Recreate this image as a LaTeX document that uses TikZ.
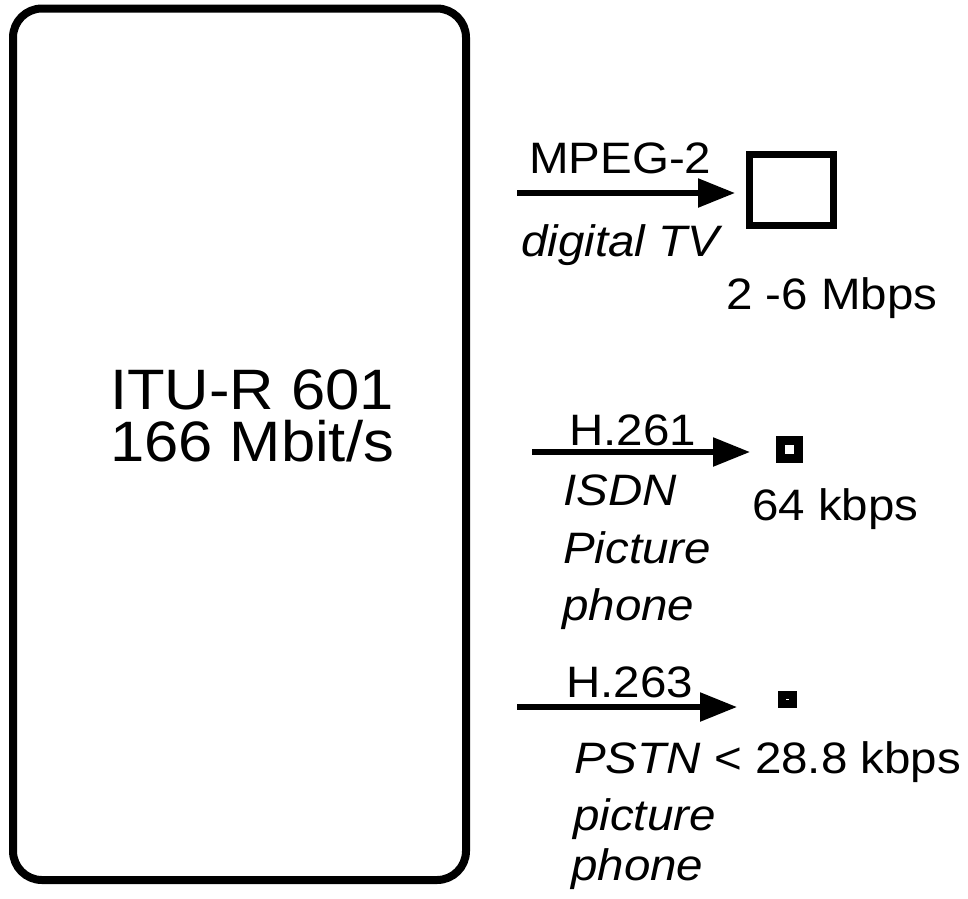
\documentclass[tikz,border=0pt]{standalone}
\usepackage{fontspec}
\setmainfont{Liberation Sans}[FakeStretch=1.08]
\usetikzlibrary{arrows.meta, positioning}
\tikzset{>={Triangle[length=37pt,width=28pt]}}

\begin{document}
\begin{tikzpicture}[x=1pt, y=-1pt,
  txt/.style={font=\fontsize{44}{50}\selectfont, inner sep=0pt, anchor=base west},
  big/.style={font=\fontsize{57}{62}\selectfont, inner sep=0pt, anchor=base},
  feed/.style={->, line width=5.5pt},
  screen/.style={draw, inner sep=0pt, outer sep=0pt}]
\useasboundingbox (0,0) rectangle (968,898);
% source frame
\node[draw, line width=8pt, rounded corners=29pt, minimum width=453pt, minimum height=871.5pt, inner sep=0pt] (itu) at (239.5,444.25) {};
\node[big] (itu1) at (252,409) {ITU-R 601};
\node[big] (itu2) at (252,461) {166 Mbit/s};
% MPEG-2
\node[screen, line width=7pt, minimum width=84pt, minimum height=71pt] (tv) at (791.5,190) {};
\coordinate (in1) at (517,193);
\draw[feed, shorten >=14.5pt] (in1) -- (in1 -| tv.west);
\node[txt] (mpeg) at (529,173) {MPEG-2};
\node[txt] (dtv) at (521,256) {\itshape digital TV};
\node[txt] (rate1) at (726,309) {2 -6 Mbps};
% H.261
\node[screen, line width=9pt, minimum width=18pt, minimum height=18pt] (isdn) at (789.5,449.5) {};
\coordinate (in2) at (532,452);
\draw[feed, shorten >=30.5pt] (in2) -- (in2 -| isdn.west);
\node[txt] (h261) at (569,445) {H.261};
\node[txt] (isdn1) at (563,505) {\itshape ISDN};
\node[txt] (isdn2) at (563,563) {\itshape Picture};
\node[txt] (isdn3) at (562,620) {\itshape phone};
\node[txt] (rate2) at (752,520) {64 kbps};
% H.263
\node[screen, line width=8pt, minimum width=11pt, minimum height=9pt] (pstn) at (787,699) {};
\coordinate (in3) at (517,707);
\draw[feed, shorten >=44.5pt] (in3) -- (in3 -| pstn.west);
\node[txt] (h263) at (566,697) {H.263};
\node[txt] (pstn1) at (574,773) {\textit{PSTN} < 28.8 kbps};
\node[txt] (pstn2) at (573,830) {\itshape picture};
\node[txt] (pstn3) at (571,880) {\itshape phone};
\end{tikzpicture}
\end{document}
